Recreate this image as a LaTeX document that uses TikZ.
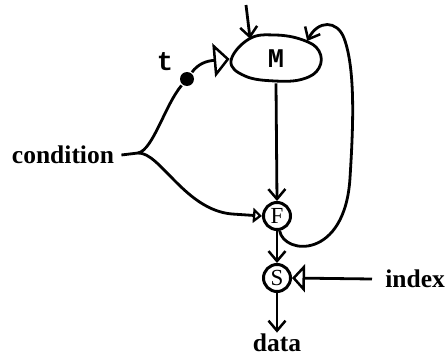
\documentclass[tikz,border=0pt]{standalone}
\usepackage{fontspec}
\setmainfont{Liberation Serif}
\setmonofont{Liberation Mono}
\usetikzlibrary{arrows.meta,shapes.geometric}
\begin{document}
\begin{tikzpicture}[x=1pt,y=-1pt, line width=2.8pt,
  barb/.style={-{Straight Barb[length=10pt,width=17pt,line width=2.5pt]}},
  bigtri/.style={-{Triangle[open,length=16pt,width=34pt,line width=2.5pt]}},
  idxtri/.style={-{Triangle[open,length=13pt,width=28pt,line width=2.5pt]}},
  smalltri/.style={-{Triangle[open,length=9pt,width=15pt,line width=2.5pt]}},
  lbl/.style={font=\fontsize{25.5}{30}\selectfont\bfseries, inner sep=0pt},
  circ/.style={circle, draw, line width=3pt, minimum size=27pt, inner sep=0pt, font=\fontsize{23}{25}\selectfont},
  mono/.style={font=\fontsize{27}{30}\selectfont\ttfamily\bfseries, inner sep=0pt}]
\useasboundingbox (0,0) rectangle (448,356);

% nodes
\node[ellipse, minimum width=90pt, minimum height=46pt, inner sep=0pt, font=\fontsize{27}{30}\selectfont\ttfamily\bfseries] (M) at (276,59) {M};
\draw plot[smooth cycle, tension=0.7] coordinates {(231,61) (249,39) (275,35) (303,40) (319,51) (319,68) (303,79) (275,81) (245,76)};
\node[circ] (F) at (277,216) {F};
\node[circ] (S) at (277,278) {S};
\node[lbl] (data) at (277,343) {data};
\node[lbl, anchor=west] (index) at (384,279) {index};
\node[lbl] (cond) at (63,155) {condition};
\node[circle, fill, minimum size=14pt, inner sep=0pt] (dot) at (187,79) {};
\node[mono] (t) at (165,62) {t};
\coordinate (top) at (246,5);
\coordinate (br) at (138,153);

% connectors
\draw[barb] (top) -- (M.142);
\draw[barb] (M.south) -- (F.north);
\draw[barb] (F.south) -- (S.north);
\draw[barb] (S.south) -- (data.north);
\draw[idxtri] ([xshift=-12pt]index.west) -- (S.east);
\draw[barb] (F.-80) .. controls (284,255) and (345,260) .. (350,178)
  .. controls (353,130) and (356,70) .. (344,38)
  .. controls (337,20) and (318,20) .. (M.30);
\draw ([xshift=6pt]cond.east) -- (br);
\draw (br) .. controls (153,150) and (165,105) .. (dot);
\draw[bigtri] (dot) .. controls (198,64) and (206,61) .. (M.west);
\draw[smalltri] (br) .. controls (160,152) and (185,210) .. (232,214) -- (F.west);
\end{tikzpicture}
\end{document}
